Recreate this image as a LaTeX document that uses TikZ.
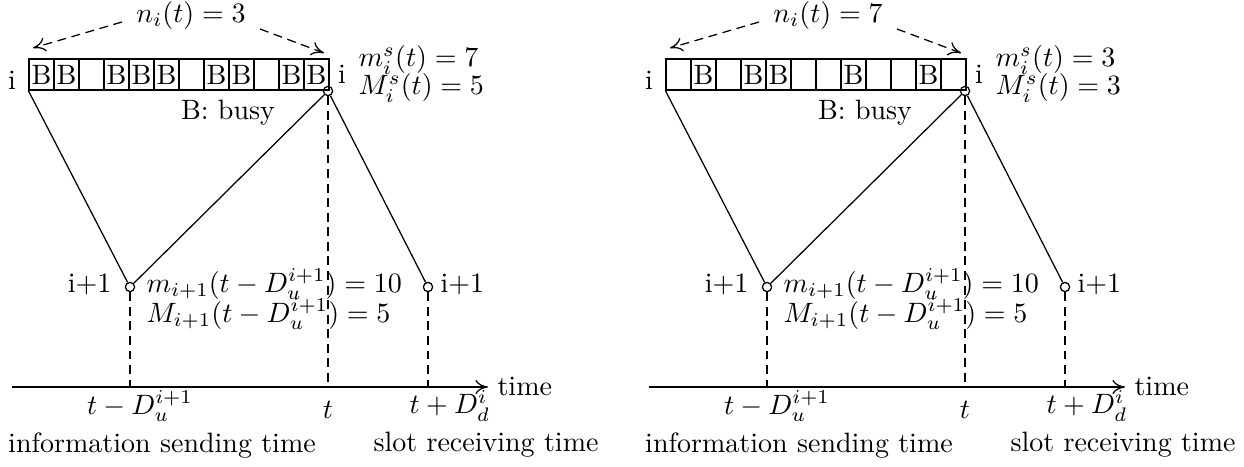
\documentclass[tikz,border=0pt]{standalone}
\usetikzlibrary{arrows.meta}
\tikzset{
  px/.style={x=0.3571pt,y=-0.3571pt},
  slotbox/.style={draw,line width=0.45pt,minimum width=8.93pt,minimum height=11.07pt,inner sep=0pt,font=\normalsize},
  dot/.style={draw,circle,line width=0.45pt,inner sep=0pt,minimum size=3.3pt},
  seg/.style={line width=0.45pt},
  dashes/.style={line width=0.45pt,dash pattern=on 3.2pt off 2pt},
  tip/.style={-{To[length=4.5pt,width=5pt]}},
  lbl/.style={inner sep=0pt},
}
\newcommand\drawpanel[6]{%
\begin{scope}[shift={(#2,0)}]
  \foreach \f [count=\k from 0] in {#3} {
    \node[slotbox] (#1s\k) at ({41.5+25*\k},74.5) {\ifnum\f=1 B\fi};
  }
  \node[lbl] (#1n) at (191,15) {$n_i(t) = #4$};
  \coordinate (#1na) at (122,22);
  \coordinate (#1nb) at (33,48);
  \coordinate (#1nc) at (260,29);
  \coordinate (#1nd) at (324,53);
  \draw[dashes,tip] (#1na) -- (#1nb);
  \draw[dashes,tip] (#1nc) -- (#1nd);
  \node[lbl] (#1il) at (12,80) {i};
  \node[lbl] (#1ir) at (342,74) {i};
  \node[lbl,anchor=west] (#1m) at (358,60) {$m_i^s(t) = #5$};
  \node[lbl,anchor=west] (#1M) at (358,88) {$M_i^s(t) = #6$};
  \node[lbl] (#1busy) at (228,113) {B: busy};
  \node[dot] (#1C) at (328,91) {};
  \node[dot] (#1P) at (130,287) {};
  \node[dot] (#1Q) at (428,287) {};
  \draw[seg] (#1s0.south west) -- (#1P);
  \draw[seg] (#1P) -- (#1C);
  \draw[seg] (#1C) -- (#1Q);
  \node[lbl,anchor=east] (#1pl) at (112,284) {i+1};
  \node[lbl,anchor=west] (#1ql) at (440,284) {i+1};
  \node[lbl,anchor=west] (#1mm) at (146,284) {$m_{i+1}(t-D_u^{i+1}) = 10$};
  \node[lbl,anchor=west] (#1MM) at (146,314) {$M_{i+1}(t-D_u^{i+1}) = 5$};
  \coordinate (#1a0) at (12,387);
  \coordinate (#1a1) at (488,387);
  \draw[seg,tip] (#1a0) -- (#1a1);
  \node[lbl,anchor=west] (#1time) at (497,386) {time};
  \draw[dashes] (#1P) -- (#1P |- #1a0);
  \draw[dashes] (#1C) -- (#1C |- #1a0);
  \draw[dashes] (#1Q) -- (#1Q |- #1a0);
  \node[lbl] (#1tP) at (140,406) {$t-D_u^{i+1}$};
  \node[lbl] (#1tC) at (328,410) {$t$};
  \node[lbl] (#1tQ) at (450,406) {$t+D_d^i$};
  \node[lbl] (#1info) at (162,445) {information sending time};
  \node[lbl] (#1slot) at (486,445) {slot receiving time};
\end{scope}}
\begin{document}
\begin{tikzpicture}[px]
  \useasboundingbox (0,0) rectangle (1244,466);
  \drawpanel{L}{0}{1,1,0,1,1,1,0,1,1,0,1,1}{3}{7}{5}
  \drawpanel{R}{637}{0,1,0,1,1,0,0,1,0,0,1,0}{7}{3}{3}
\end{tikzpicture}
\end{document}
